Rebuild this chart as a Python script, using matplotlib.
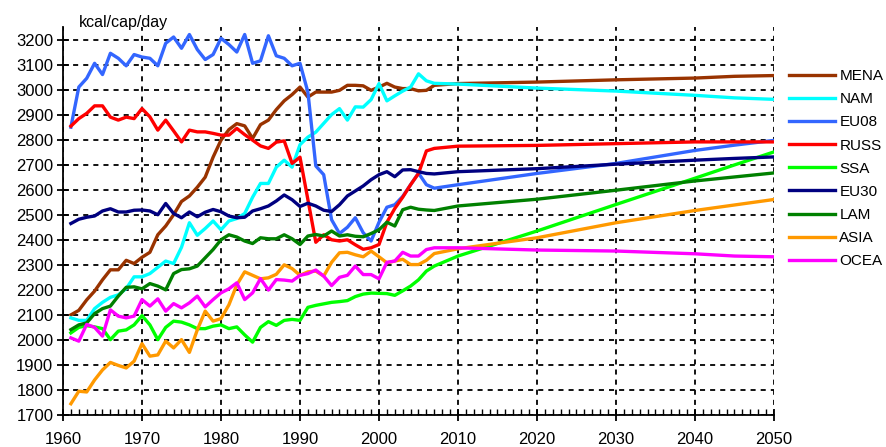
import matplotlib
matplotlib.use('Agg')
import matplotlib.pyplot as plt
import numpy as np
from matplotlib.ticker import MultipleLocator

plt.rcParams['font.family'] = ['Liberation Sans', 'DejaVu Sans']

# historical years 1961-2007, then projection years
hist_years = np.arange(1961, 2008)
proj_years = [2010, 2020, 2030, 2040, 2045, 2050]

regions = ['MENA', 'NAM', 'EU08', 'RUSS', 'SSA', 'EU30', 'LAM', 'ASIA', 'OCEA']
colors = ['#993300', '#00FFFF', '#3366FF', '#FF0000', '#00FF00',
          '#000080', '#008000', '#FF9900', '#FF00FF']

mena = [2100, 2118, 2160, 2195, 2240, 2280, 2280, 2318, 2305, 2330,
        2350, 2420, 2455, 2500, 2553, 2575, 2610, 2650, 2730, 2798,
        2840, 2864, 2855, 2805, 2860, 2878, 2920, 2955, 2980, 3010,
        2970, 2990, 2990, 2990, 2997, 3017, 3017, 3015, 2997, 3010,
        3025, 3010, 3004, 3004, 2995, 2997, 3017]
mena_p = [3024, 3030, 3039, 3046, 3053, 3056]

nam = [2088, 2078, 2078, 2125, 2150, 2170, 2180, 2205, 2252, 2252,
       2265, 2290, 2315, 2305, 2370, 2468, 2418, 2445, 2475, 2440,
       2475, 2485, 2505, 2570, 2625, 2625, 2690, 2718, 2690, 2780,
       2810, 2830, 2865, 2900, 2924, 2878, 2931, 2930, 2960, 3024,
       2955, 2975, 2994, 3010, 3063, 3035, 3025]
nam_p = [3022, 3006, 2994, 2977, 2967, 2961]

eu08 = [2850, 3010, 3045, 3105, 3060, 3145, 3125, 3095, 3140, 3130,
        3125, 3095, 3185, 3210, 3165, 3220, 3160, 3120, 3140, 3205,
        3180, 3150, 3220, 3105, 3115, 3215, 3135, 3125, 3095, 3105,
        2990, 2695, 2660, 2480, 2425, 2450, 2488, 2428, 2395, 2470,
        2530, 2540, 2573, 2620, 2666, 2620, 2606]
eu08_p = [2620, 2665, 2705, 2757, 2778, 2797]

russ = [2854, 2884, 2905, 2935, 2935, 2890, 2878, 2890, 2884, 2924,
        2891, 2838, 2878, 2835, 2791, 2838, 2831, 2831, 2825, 2818,
        2818, 2845, 2820, 2798, 2775, 2765, 2790, 2795, 2705, 2730,
        2560, 2390, 2420, 2400, 2395, 2400, 2380, 2362, 2368, 2381,
        2470, 2525, 2570, 2620, 2665, 2755, 2765]
russ_p = [2774, 2777, 2784, 2791, 2791, 2791]

ssa = [2028, 2050, 2057, 2052, 2045, 2001, 2035, 2040, 2060, 2097,
       2060, 2001, 2050, 2075, 2071, 2060, 2045, 2045, 2055, 2060,
       2045, 2052, 2020, 1991, 2050, 2073, 2058, 2078, 2082, 2078,
       2130, 2138, 2144, 2150, 2153, 2157, 2173, 2183, 2187, 2186,
       2185, 2178, 2196, 2215, 2240, 2275, 2295]
ssa_p = [2335, 2435, 2541, 2646, 2699, 2751]

eu30 = [2465, 2482, 2490, 2495, 2515, 2524, 2511, 2511, 2518, 2519,
        2515, 2500, 2545, 2505, 2488, 2511, 2492, 2510, 2521, 2512,
        2495, 2488, 2490, 2515, 2524, 2535, 2555, 2579, 2560, 2533,
        2546, 2535, 2518, 2513, 2540, 2575, 2595, 2615, 2640, 2660,
        2672, 2652, 2679, 2680, 2672, 2665, 2663]
eu30_p = [2672, 2684, 2702, 2718, 2725, 2731]

lam = [2041, 2060, 2068, 2105, 2125, 2135, 2175, 2210, 2212, 2204,
       2225, 2215, 2200, 2265, 2281, 2284, 2295, 2328, 2361, 2400,
       2420, 2411, 2395, 2385, 2408, 2404, 2404, 2420, 2404, 2381,
       2415, 2421, 2415, 2435, 2415, 2420, 2414, 2412, 2425, 2440,
       2470, 2455, 2520, 2530, 2522, 2519, 2517]
lam_p = [2535, 2562, 2598, 2635, 2651, 2667]

asia = [1745, 1795, 1792, 1840, 1880, 1910, 1898, 1888, 1915, 1985,
        1935, 1940, 1995, 1968, 2001, 1950, 2040, 2115, 2075, 2085,
        2140, 2220, 2272, 2258, 2244, 2248, 2262, 2300, 2285, 2258,
        2272, 2275, 2255, 2310, 2348, 2350, 2340, 2332, 2355, 2332,
        2308, 2315, 2322, 2301, 2301, 2318, 2345]
asia_p = [2364, 2408, 2468, 2517, 2539, 2561]

ocea = [2008, 1995, 2062, 2050, 2015, 2120, 2095, 2088, 2095, 2161,
        2135, 2164, 2115, 2145, 2128, 2148, 2175, 2132, 2161, 2188,
        2204, 2228, 2161, 2188, 2245, 2199, 2241, 2239, 2235, 2258,
        2265, 2279, 2255, 2217, 2250, 2258, 2295, 2261, 2261, 2244,
        2310, 2315, 2350, 2335, 2335, 2361, 2368]
ocea_p = [2368, 2359, 2355, 2344, 2335, 2332]

hist = [mena, nam, eu08, russ, ssa, eu30, lam, asia, ocea]
proj = [mena_p, nam_p, eu08_p, russ_p, ssa_p, eu30_p, lam_p, asia_p, ocea_p]

fig = plt.figure(figsize=(8.86, 4.47), dpi=100)
ax = fig.add_axes([63 / 886, 32 / 447, 711 / 886, 388 / 447])

for name, c, h, p in zip(regions, colors, hist, proj):
    x = list(hist_years) + proj_years
    y = list(h) + list(p)
    ax.plot(x, y, color=c, lw=2.4, label=name, solid_joinstyle='round')

ax.set_xlim(1960, 2050)
ax.set_ylim(1700, 3250)
ax.xaxis.set_major_locator(MultipleLocator(10))
ax.xaxis.set_minor_locator(MultipleLocator(1))
ax.set_yticks(np.arange(1700, 3201, 100))

ax.grid(True, which='major', color='black', linestyle=(0, (2.8, 2.8)), lw=1.3)
ax.spines['top'].set_visible(False)
ax.spines['right'].set_visible(False)
for s in ['left', 'bottom']:
    ax.spines[s].set_linewidth(1.3)

ax.tick_params(axis='both', which='major', direction='inout', length=8,
               width=1.3, labelsize=12, colors='black')
ax.tick_params(axis='x', which='major', pad=8)
ax.tick_params(axis='x', which='minor', direction='in', length=4, width=1.0)
ax.tick_params(axis='y', which='major', pad=3)

fig.text(79 / 886, 1 - 22 / 447, 'kcal/cap/day', fontsize=11.5, va='center', ha='left')

fig.legend(loc='upper left', bbox_to_anchor=(789 / 886, 1 - 69 / 447),
           frameon=False, fontsize=11, handlelength=3.0, handletextpad=0.3,
           labelspacing=0.6, borderpad=0, borderaxespad=0)

fig.savefig('out.png', dpi=100)
